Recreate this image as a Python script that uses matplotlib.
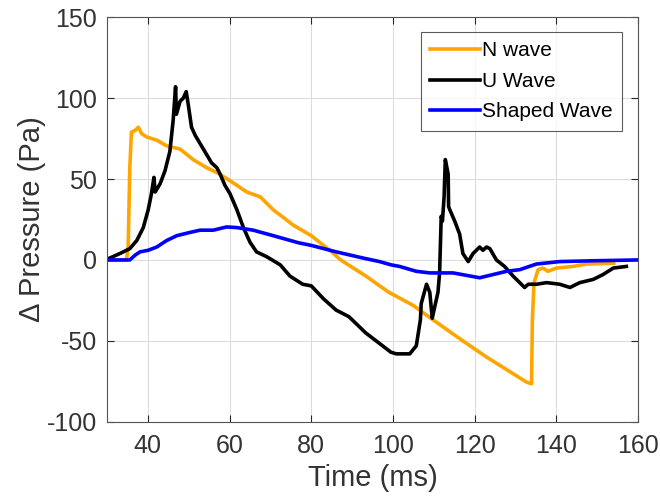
import matplotlib
matplotlib.use("Agg")
import matplotlib.pyplot as plt

plt.rcParams['font.family'] = ['Liberation Sans', 'DejaVu Sans']
plt.rcParams['axes.unicode_minus'] = False

# N wave (orange)
n_t = [30, 34.8, 35.2, 35.6, 36.0, 36.9, 37.7, 38.5, 39.7, 42.2, 44.6, 47.9, 51.1, 54.4,
       56.9, 60.1, 64.2, 67.5, 70.7, 75.6, 80, 85, 87.2, 93.4, 99, 104.9, 109.8, 117.1,
       122.9, 128.6, 132.7, 133.9, 134.1, 134.5, 135.5, 136.7, 137.9, 140, 144, 147.3, 154]
n_p = [0, 0, 8, 57, 79, 80, 82, 78, 76, 74, 70.5, 68.5, 62, 57,
       54, 49, 42, 39, 31, 21.5, 15, 5, 0, -10, -20, -28, -37, -50,
       -60, -69, -75.5, -76.5, -37, -14, -6, -5, -7, -5, -4, -2.5, -2]

# U wave (black)
u_t = [30, 33.2, 35.6, 37.3, 38.9, 40.1, 40.9, 41.5, 41.8, 43.0, 44.2, 45.4, 46.2, 46.8,
       47.0, 47.9, 48.7, 49.4, 49.9, 50.7, 51.6, 53.6, 55.6, 56.9, 57.7, 58.9, 60.1, 61.8,
       63.4, 65.0, 66.6, 69.1, 72.4, 74.8, 77.9, 80, 83, 86.1, 89.2, 93.3, 96.4, 99.5,
       100.8, 104.1, 105.7, 106.7, 106.9, 108.2, 109.0, 109.6, 110.2, 111.0, 111.4, 111.8,
       112.1, 112.5, 112.8, 113.5, 113.6, 113.9, 115.1, 116.3, 117.1, 118.4, 119.6, 121.2,
       122.0, 122.9, 123.7, 125.3, 127.3, 129.4, 132.2, 133.1, 135.1, 137.6, 140.8, 143.3,
       145.7, 149.0, 151.4, 153.9, 157.1]
u_p = [0.4, 4, 7, 12, 20, 31, 41, 51, 42, 47, 55, 67, 86, 107,
       90, 98, 100, 104, 96, 82, 77, 68.5, 60, 57, 53, 46, 41, 31,
       20, 11, 5, 2, -3, -10, -15, -16, -24, -31, -35, -45, -51, -57,
       -58, -58, -53, -37, -27, -15, -20, -36, -29, -20, -8, 27,
       24, 39, 62, 53, 33, 31, 24, 16, 4, -1, 4, 8,
       6, 8, 7, 0, -4, -10, -17, -15, -15, -14, -15, -17,
       -14, -12, -9, -5, -4]

# Shaped wave (blue)
s_t = [30, 35.6, 36.9, 38.1, 40.1, 42.2, 44.6, 47.1, 50.3, 52.8, 56.0, 59.3, 61.8, 65.8,
       70.7, 76.9, 80, 86.1, 93, 96.7, 99.5, 101.6, 105.7, 109, 114.7, 121.2, 124.5,
       127.8, 131, 135.1, 140.8, 149, 159.6]
s_p = [0, 0, 3, 5, 6, 8, 12, 15, 17, 18.4, 18.4, 20.4, 20, 18.4,
       15, 10.6, 9, 5, 1, -1, -3, -4, -7, -8, -8, -11, -9,
       -7, -6, -2.5, -1, -0.5, 0]

fig = plt.figure(figsize=(6.6, 5.04), dpi=100)
ax = fig.add_axes([0.162, 0.163, 0.805, 0.803])

ax.plot(n_t, n_p, color='#FFA500', lw=2.6, label='N wave')
ax.plot(u_t, u_p, color='black', lw=2.6, label='U Wave')
ax.plot(s_t, s_p, color='#0000FF', lw=2.6, label='Shaped Wave')

ax.set_xlim(30, 160)
ax.set_ylim(-100, 150)
ax.set_xticks([40, 60, 80, 100, 120, 140, 160])
ax.set_yticks([-100, -50, 0, 50, 100, 150])
ax.grid(True, color='#dcdcdc', lw=0.8)
ax.set_axisbelow(True)
ax.tick_params(direction='in', labelsize=18, colors='#262626', labelcolor='#333333',
               right=True, top=True, length=5)
ax.tick_params(axis='x', pad=9)
ax.tick_params(axis='y', pad=7)
for s in ax.spines.values():
    s.set_color('#555555')
    s.set_linewidth(0.8)

ax.set_xlabel('Time (ms)', fontsize=21, color='#333333', labelpad=4)
ax.set_ylabel('Δ Pressure (Pa)', fontsize=21, color='#333333', labelpad=1)

leg = ax.legend(loc='upper right', fontsize=15, fancybox=False, edgecolor='#333333',
                handlelength=2.4, handletextpad=0.1, borderpad=0.45, labelspacing=0.55,
                borderaxespad=0, bbox_to_anchor=(0.97, 0.963))
leg.get_frame().set_linewidth(0.8)

fig.savefig('out.png', dpi=100)
